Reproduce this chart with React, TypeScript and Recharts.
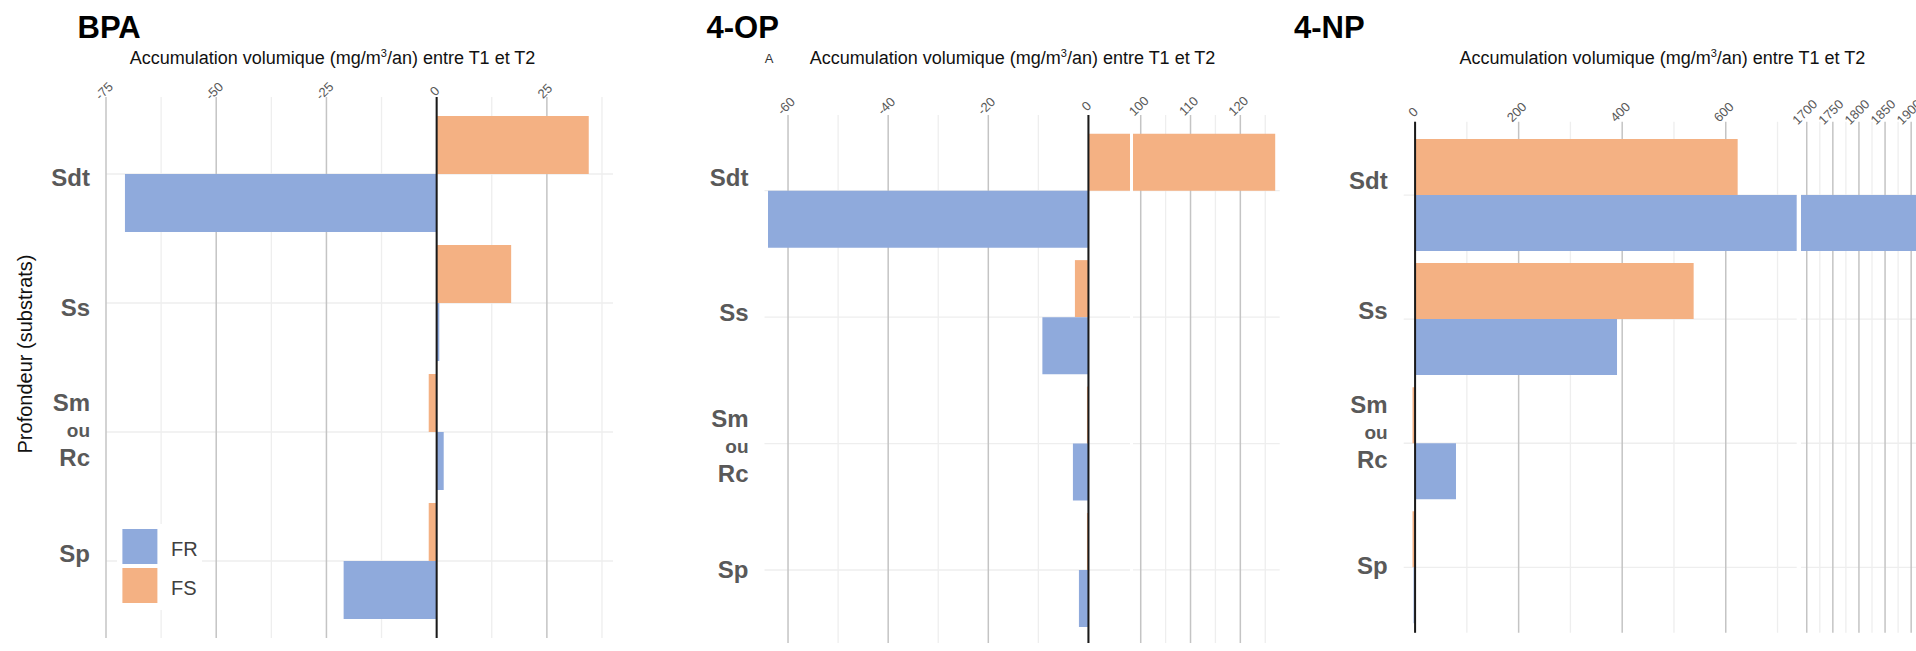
import React from "react";
import { BarChart, Bar, XAxis, YAxis, CartesianGrid, ReferenceLine } from "recharts";

// Catégories (profondeur / substrat)
const categories = ["Sdt", "Ss", "Sm ou Rc", "Sp"];

// BPA
const bpaFR = [-70.7, 0.6, 1.6, -21.1];
const bpaFS = [34.5, 16.9, -1.8, -1.8];
const bpaTicks = [-75, -50, -25, 0, 25];
const bpaMinor = [-62.5, -37.5, -12.5, 12.5, 37.5];

// 4-OP (axe coupé entre ~8 et ~98)
const opFR = [-64.0, -9.2, -3.1, -1.9];
const opFS = [127, -2.7, -0.3, -0.3];
const opTicksLow = [-60, -40, -20, 0];
const opMinorLow = [-50, -30, -10];
const opTicksHigh = [100, 110, 120];
const opMinorHigh = [105, 115, 125];

// 4-NP (axe coupé entre ~737 et ~1689)
const npFR = [1960, 390, 79, -3];
const npFS = [623, 538, -5, -5];
const npTicksLow = [0, 200, 400, 600];
const npMinorLow = [100, 300, 500, 700];
const npTicksHigh = [1700, 1750, 1800, 1850, 1900];
const npMinorHigh = [1725, 1775, 1825, 1875, 1925];

const BLUE = "#8FAADC";
const ORANGE = "#F4B183";
const FONT = '"Liberation Sans", Arial, sans-serif';
const H = 651;
const SIDE = 30; // marge libre à gauche des parties hautes (pour les étiquettes)

const toRows = (fr: number[], fs: number[]) =>
  categories.map((cat, i) => ({ cat, FR: fr[i], FS: fs[i] }));

const makeXTick = (labelY: number) => (props: any) => {
  const { x, payload } = props;
  const cx = x - 2;
  return (
    <text
      x={cx}
      y={labelY}
      transform={`rotate(-45 ${cx} ${labelY})`}
      textAnchor="middle"
      dominantBaseline="central"
      fill="#595959"
      fontSize={13}
      fontFamily={FONT}
    >
      {payload.value}
    </text>
  );
};

const makeYTick = (right: number, shifts: number[]) => (props: any) => {
  const { y, payload, index } = props;
  const cy = y + (shifts[index] || 0);
  const common = {
    x: right,
    textAnchor: "end" as const,
    dominantBaseline: "central" as const,
    fill: "#595959",
    fontFamily: FONT,
    fontWeight: 700,
  };
  if (payload.value === "Sm ou Rc") {
    return (
      <g>
        <text {...common} y={cy - 28} fontSize={24}>Sm</text>
        <text {...common} y={cy} fontSize={19}>ou</text>
        <text {...common} y={cy + 27} fontSize={24}>Rc</text>
      </g>
    );
  }
  return (
    <text {...common} y={cy} fontSize={24}>
      {payload.value}
    </text>
  );
};

type SegProps = {
  left: number;
  width: number;
  yAxisWidth: number;
  plotTop: number;
  plotBottom: number;
  padTop: number;
  padBottom: number;
  gap: number;
  domain: [number, number];
  ticks: number[];
  minor: number[];
  fr: number[];
  fs: number[];
  tickY: number;
  labelShift?: number[];
  zero?: boolean;
};

const Segment = (p: SegProps) => {
  const data = toRows(p.fr, p.fs);
  const showLabels = !!p.labelShift;
  const extra = showLabels ? 0 : SIDE;
  return (
    <div style={{ position: "absolute", left: p.left - extra, top: 0 }}>
      <BarChart
        width={p.width + extra}
        height={H}
        data={data}
        layout="vertical"
        margin={{ top: p.plotTop - 20, right: 0, bottom: H - p.plotBottom, left: extra }}
        barCategoryGap={p.gap}
        barGap={0}
      >
        {/* grille secondaire (demi-graduations + lignes des catégories) */}
        <CartesianGrid xAxisId="minor" syncWithTicks stroke="#eeeeee" strokeWidth={1.3} />
        <CartesianGrid horizontal={false} syncWithTicks stroke="#c4c4c4" strokeWidth={1.5} />
        <XAxis
          type="number"
          orientation="top"
          height={20}
          domain={p.domain}
          ticks={p.ticks}
          allowDataOverflow
          axisLine={false}
          tickLine={false}
          interval={0}
          tick={makeXTick(p.tickY)}
        />
        <XAxis
          xAxisId="minor"
          type="number"
          orientation="top"
          domain={p.domain}
          ticks={p.minor}
          allowDataOverflow
          interval={0}
          hide
        />
        <YAxis
          type="category"
          dataKey="cat"
          width={showLabels ? p.yAxisWidth : 0}
          hide={!showLabels}
          axisLine={false}
          tickLine={false}
          interval={0}
          padding={{ top: p.padTop, bottom: p.padBottom }}
          tick={makeYTick(p.yAxisWidth - 16, p.labelShift || [])}
        />
        <Bar dataKey="FS" fill={ORANGE} isAnimationActive={false} />
        <Bar dataKey="FR" fill={BLUE} isAnimationActive={false} />
        {p.zero && <ReferenceLine x={0} stroke="#1a1a1a" strokeWidth={2} />}
      </BarChart>
    </div>
  );
};

const AxisTitle = ({ cx }: { cx: number }) => (
  <text x={cx} y={64} textAnchor="middle" fontSize={18} fill="#111" fontFamily={FONT}>
    Accumulation volumique (mg/m
    <tspan dy={-7} fontSize={11}>3</tspan>
    <tspan dy={7}>/an) entre T1 et T2</tspan>
  </text>
);

export default function App() {
  return (
    <div
      style={{
        position: "absolute",
        left: 0,
        top: 0,
        width: 1916,
        height: H,
        overflow: "hidden",
        background: "#fff",
      }}
    >
      {/* BPA */}
      <Segment
        left={0}
        width={613}
        yAxisWidth={106}
        plotTop={97}
        plotBottom={638}
        padTop={12.5}
        padBottom={12.5}
        gap={6.5}
        domain={[-75, 40]}
        ticks={bpaTicks}
        minor={bpaMinor}
        fr={bpaFR}
        fs={bpaFS}
        tickY={91}
        labelShift={[3, 4, -2, -8]}
        zero
      />

      {/* 4-OP, partie basse puis partie haute */}
      <Segment
        left={640}
        width={490}
        yAxisWidth={124.5}
        plotTop={115}
        plotBottom={643}
        padTop={12.5}
        padBottom={9.8}
        gap={6.2}
        domain={[-64.7, 8.3]}
        ticks={opTicksLow}
        minor={opMinorLow}
        fr={opFR}
        fs={opFS}
        tickY={106}
        labelShift={[-13, -5, 3, 0]}
        zero
      />
      <Segment
        left={1133.3}
        width={146.7}
        yAxisWidth={0}
        plotTop={115}
        plotBottom={643}
        padTop={12.5}
        padBottom={9.8}
        gap={6.2}
        domain={[98.45, 127.9]}
        ticks={opTicksHigh}
        minor={opMinorHigh}
        fr={opFR}
        fs={opFS}
        tickY={106}
      />

      {/* 4-NP, partie basse puis partie haute */}
      <Segment
        left={1280}
        width={516.7}
        yAxisWidth={123.7}
        plotTop={121.7}
        plotBottom={632.7}
        padTop={11.3}
        padBottom={3.3}
        gap={6}
        domain={[-22, 737]}
        ticks={npTicksLow}
        minor={npMinorLow}
        fr={npFR}
        fs={npFS}
        tickY={112}
        labelShift={[-15, -9, -11, -2]}
        zero
      />
      <Segment
        left={1801}
        width={130}
        yAxisWidth={0}
        plotTop={121.7}
        plotBottom={632.7}
        padTop={11.3}
        padBottom={3.3}
        gap={6}
        domain={[1689, 1938]}
        ticks={npTicksHigh}
        minor={npMinorHigh}
        fr={npFR}
        fs={npFS}
        tickY={112}
      />

      <svg
        width={1916}
        height={H}
        style={{ position: "absolute", left: 0, top: 0 }}
        fontFamily={FONT}
      >
        <text x={77.6} y={38} fontSize={31} fontWeight={700} fill="#000">BPA</text>
        <text x={706.5} y={38} fontSize={31} fontWeight={700} fill="#000">4-OP</text>
        <text x={1294} y={38} fontSize={31} fontWeight={700} fill="#000">4-NP</text>

        <AxisTitle cx={332.5} />
        <AxisTitle cx={1012.5} />
        <AxisTitle cx={1662.4} />
        <text x={769} y={58} textAnchor="middle" dominantBaseline="central" fontSize={13} fill="#333">A</text>

        <text
          x={24.5}
          y={354}
          transform="rotate(-90 24.5 354)"
          textAnchor="middle"
          dominantBaseline="central"
          fontSize={20}
          fill="#111"
        >
          Profondeur (substrats)
        </text>

        {/* légende */}
        <rect x={117} y={524} width={85} height={86} fill="#fff" />
        <rect x={122.4} y={529} width={35} height={35} fill={BLUE} />
        <rect x={122.4} y={568} width={35} height={35} fill={ORANGE} />
        <text x={171} y={549} dominantBaseline="central" fontSize={20} fill="#404040">FR</text>
        <text x={171} y={588} dominantBaseline="central" fontSize={20} fill="#404040">FS</text>
      </svg>
    </div>
  );
}
